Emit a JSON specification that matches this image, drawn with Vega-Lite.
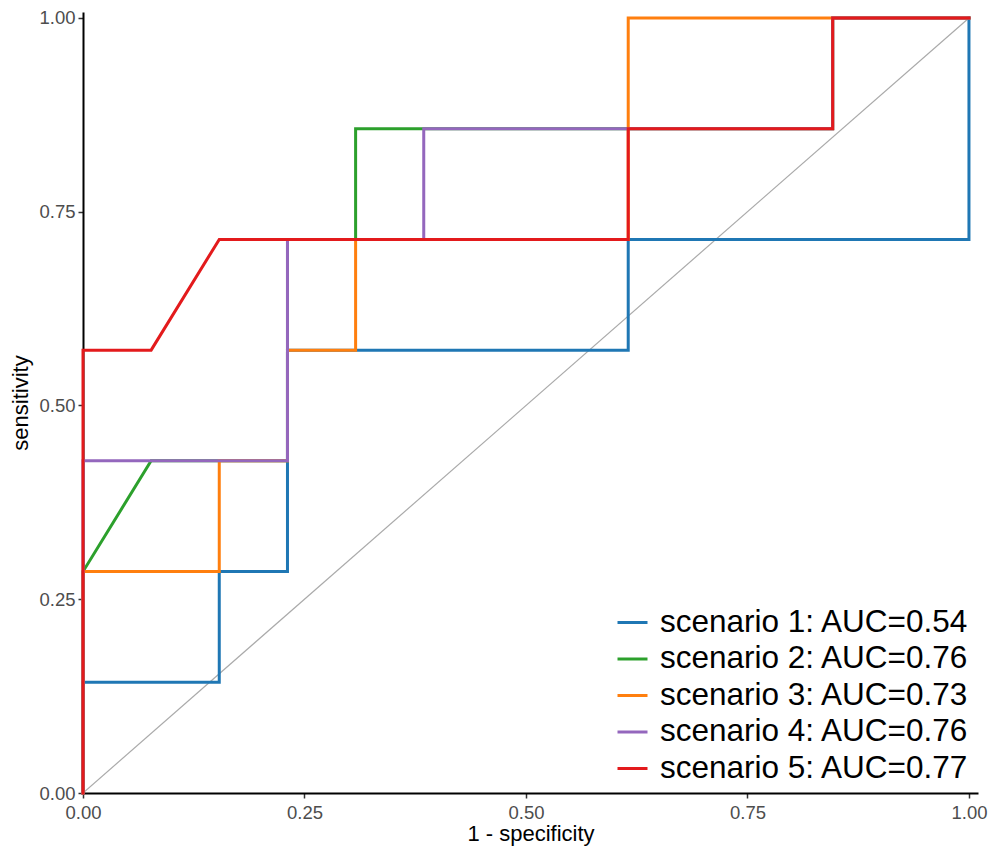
{
  "$schema": "https://vega.github.io/schema/vega-lite/v6.json",
  "width": 895,
  "height": 781,
  "autosize": {"type": "none"},
  "padding": {"left": 83, "top": 12, "right": 14, "bottom": 56},
  "background": "white",
  "config": {
    "view": {"stroke": null},
    "font": "Liberation Sans"
  },
  "datasets": {
    "diag": [{"x": 0, "y": 0}, {"x": 1, "y": 1}],
    "roc": [
      {"s": "scenario 1: AUC=0.54", "o": 1, "x": 0, "y": 0},
      {"s": "scenario 1: AUC=0.54", "o": 2, "x": 0, "y": 0.1429},
      {"s": "scenario 1: AUC=0.54", "o": 3, "x": 0.1538, "y": 0.1429},
      {"s": "scenario 1: AUC=0.54", "o": 4, "x": 0.1538, "y": 0.2857},
      {"s": "scenario 1: AUC=0.54", "o": 5, "x": 0.2308, "y": 0.2857},
      {"s": "scenario 1: AUC=0.54", "o": 6, "x": 0.2308, "y": 0.5714},
      {"s": "scenario 1: AUC=0.54", "o": 7, "x": 0.6154, "y": 0.5714},
      {"s": "scenario 1: AUC=0.54", "o": 8, "x": 0.6154, "y": 0.7143},
      {"s": "scenario 1: AUC=0.54", "o": 9, "x": 1, "y": 0.7143},
      {"s": "scenario 1: AUC=0.54", "o": 10, "x": 1, "y": 1},
      {"s": "scenario 2: AUC=0.76", "o": 1, "x": 0, "y": 0},
      {"s": "scenario 2: AUC=0.76", "o": 2, "x": 0, "y": 0.2857},
      {"s": "scenario 2: AUC=0.76", "o": 3, "x": 0.0769, "y": 0.4286},
      {"s": "scenario 2: AUC=0.76", "o": 4, "x": 0.2308, "y": 0.4286},
      {"s": "scenario 2: AUC=0.76", "o": 5, "x": 0.2308, "y": 0.7143},
      {"s": "scenario 2: AUC=0.76", "o": 6, "x": 0.3077, "y": 0.7143},
      {"s": "scenario 2: AUC=0.76", "o": 7, "x": 0.3077, "y": 0.8571},
      {"s": "scenario 2: AUC=0.76", "o": 8, "x": 0.8462, "y": 0.8571},
      {"s": "scenario 2: AUC=0.76", "o": 9, "x": 0.8462, "y": 1},
      {"s": "scenario 2: AUC=0.76", "o": 10, "x": 1, "y": 1},
      {"s": "scenario 3: AUC=0.73", "o": 1, "x": 0, "y": 0},
      {"s": "scenario 3: AUC=0.73", "o": 2, "x": 0, "y": 0.2857},
      {"s": "scenario 3: AUC=0.73", "o": 3, "x": 0.1538, "y": 0.2857},
      {"s": "scenario 3: AUC=0.73", "o": 4, "x": 0.1538, "y": 0.4286},
      {"s": "scenario 3: AUC=0.73", "o": 5, "x": 0.2308, "y": 0.4286},
      {"s": "scenario 3: AUC=0.73", "o": 6, "x": 0.2308, "y": 0.5714},
      {"s": "scenario 3: AUC=0.73", "o": 7, "x": 0.3077, "y": 0.5714},
      {"s": "scenario 3: AUC=0.73", "o": 8, "x": 0.3077, "y": 0.7143},
      {"s": "scenario 3: AUC=0.73", "o": 9, "x": 0.6154, "y": 0.7143},
      {"s": "scenario 3: AUC=0.73", "o": 10, "x": 0.6154, "y": 1},
      {"s": "scenario 3: AUC=0.73", "o": 11, "x": 1, "y": 1},
      {"s": "scenario 4: AUC=0.76", "o": 1, "x": 0, "y": 0},
      {"s": "scenario 4: AUC=0.76", "o": 2, "x": 0, "y": 0.4286},
      {"s": "scenario 4: AUC=0.76", "o": 3, "x": 0.2308, "y": 0.4286},
      {"s": "scenario 4: AUC=0.76", "o": 4, "x": 0.2308, "y": 0.7143},
      {"s": "scenario 4: AUC=0.76", "o": 5, "x": 0.3846, "y": 0.7143},
      {"s": "scenario 4: AUC=0.76", "o": 6, "x": 0.3846, "y": 0.8571},
      {"s": "scenario 4: AUC=0.76", "o": 7, "x": 0.8462, "y": 0.8571},
      {"s": "scenario 4: AUC=0.76", "o": 8, "x": 0.8462, "y": 1},
      {"s": "scenario 4: AUC=0.76", "o": 9, "x": 1, "y": 1},
      {"s": "scenario 5: AUC=0.77", "o": 1, "x": 0, "y": 0},
      {"s": "scenario 5: AUC=0.77", "o": 2, "x": 0, "y": 0.5714},
      {"s": "scenario 5: AUC=0.77", "o": 3, "x": 0.0769, "y": 0.5714},
      {"s": "scenario 5: AUC=0.77", "o": 4, "x": 0.1538, "y": 0.7143},
      {"s": "scenario 5: AUC=0.77", "o": 5, "x": 0.6154, "y": 0.7143},
      {"s": "scenario 5: AUC=0.77", "o": 6, "x": 0.6154, "y": 0.8571},
      {"s": "scenario 5: AUC=0.77", "o": 7, "x": 0.8462, "y": 0.8571},
      {"s": "scenario 5: AUC=0.77", "o": 8, "x": 0.8462, "y": 1},
      {"s": "scenario 5: AUC=0.77", "o": 9, "x": 1, "y": 1}
    ]
  },
  "layer": [
    {
      "data": {"name": "diag"},
      "mark": {"type": "line", "color": "#aaaaaa", "strokeWidth": 1.2, "clip": true},
      "encoding": {
        "x": {"field": "x", "type": "quantitative", "scale": {"domain": [0, 1.0102], "nice": false, "zero": false}},
        "y": {"field": "y", "type": "quantitative", "scale": {"domain": [0, 1.0077], "nice": false, "zero": false}}
      }
    },
    {
      "data": {"name": "roc"},
      "mark": {"type": "line", "strokeWidth": 3, "strokeJoin": "miter", "strokeCap": "square"},
      "encoding": {
        "x": {
          "field": "x", "type": "quantitative", "title": "1 - specificity",
          "scale": {"domain": [0, 1.0102], "nice": false, "zero": false},
          "axis": {
            "values": [0, 0.25, 0.5, 0.75, 1], "format": ".2f", "grid": false,
            "domainColor": "black", "domainWidth": 2, "tickColor": "#333333", "tickWidth": 1.5, "tickSize": 5,
            "labelColor": "#4d4d4d", "labelFontSize": 18.5, "labelFlush": false, "labelFont": "Liberation Sans", "labelPadding": 5,
            "titleFont": "Liberation Sans", "titleFontSize": 22, "titleFontWeight": "normal", "titleColor": "black", "titlePadding": 2
          }
        },
        "y": {
          "field": "y", "type": "quantitative", "title": "sensitivity",
          "scale": {"domain": [0, 1.0077], "nice": false, "zero": false},
          "axis": {
            "values": [0, 0.25, 0.5, 0.75, 1], "format": ".2f", "grid": false,
            "domainColor": "black", "domainWidth": 2, "tickColor": "#333333", "tickWidth": 1.5, "tickSize": 5,
            "labelColor": "#4d4d4d", "labelFontSize": 18.5, "labelFlush": false, "labelFont": "Liberation Sans", "labelPadding": 3,
            "titleFont": "Liberation Sans", "titleFontSize": 22, "titleFontWeight": "normal", "titleColor": "black", "titlePadding": 6
          }
        },
        "order": {"field": "o", "type": "quantitative"},
        "color": {
          "field": "s", "type": "nominal", "title": null,
          "scale": {"range": ["#1f77b4", "#2ca02c", "#ff7f0e", "#9467bd", "#e31a1c"]},
          "legend": {
            "orient": "none",
            "legendX": 533,
            "legendY": 594,
            "symbolType": "stroke",
            "symbolStrokeWidth": 3,
            "symbolSize": 900,
            "labelFontSize": 31.5,
            "labelColor": "black",
            "labelFont": "Liberation Sans",
            "rowPadding": 4.5,
            "labelOffset": 11,
            "labelLimit": 500
          }
        }
      }
    }
  ]
}
